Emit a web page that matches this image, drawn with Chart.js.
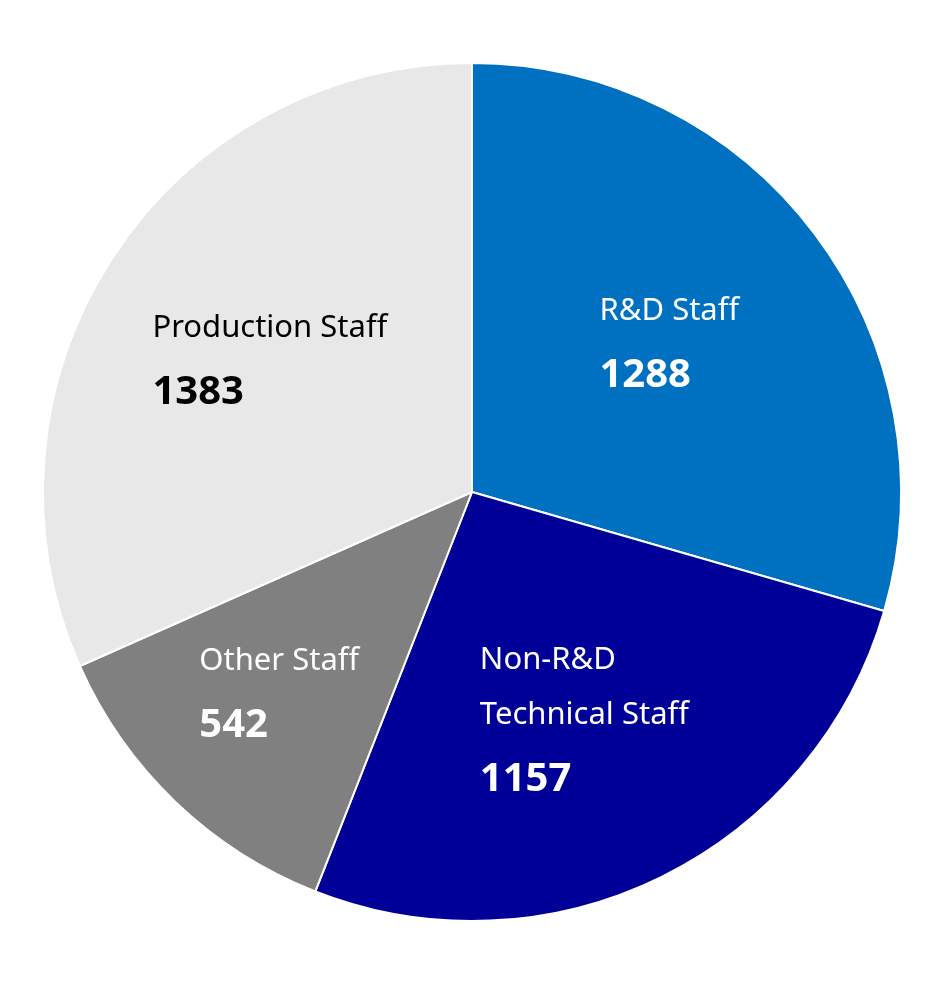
<!DOCTYPE html>
<html>
<head>
<meta charset="utf-8">
<script src="https://cdn.jsdelivr.net/npm/chart.js@4"></script>
<style>
  html, body { margin: 0; padding: 0; background: #ffffff; }
  #wrap { width: 949px; height: 988px; position: relative; }
</style>
</head>
<body>
<div id="wrap"><canvas id="grafico"></canvas></div>
<script>
const categorias = [["R&D Staff"], ["Non-R&D", "Technical Staff"], ["Other Staff"], ["Production Staff"]];
const valores = [1288, 1157, 542, 1383];
const colores = ["#0070C0", "#000099", "#808080", "#E8E8E8"];
const coloresTexto = ["#ffffff", "#ffffff", "#ffffff", "#000000"];

const fuente = "'Noto Sans', sans-serif";

// etiquetas en el centroide de cada porcion
const etiquetasPlugin = {
    id: 'etiquetas',
    afterDatasetsDraw(chart) {
        const ctx = chart.ctx;
        const meta = chart.getDatasetMeta(0);
        meta.data.forEach((arc, i) => {
            const p = arc.getProps(['x', 'y', 'startAngle', 'endAngle', 'outerRadius'], true);
            const medio = (p.startAngle + p.endAngle) / 2;
            const a = (p.endAngle - p.startAngle) / 2;
            const r = 2 * p.outerRadius * Math.sin(a) / (3 * a);
            const cx = p.x + Math.cos(medio) * r;
            const cy = p.y + Math.sin(medio) * r;

            const lineas = categorias[i];
            ctx.save();
            ctx.font = "31px " + fuente;
            let ancho = 0;
            lineas.forEach(l => { ancho = Math.max(ancho, ctx.measureText(l).width); });
            ctx.font = "bold 40px " + fuente;
            ancho = Math.max(ancho, ctx.measureText(String(valores[i])).width);

            const alto = (lineas.length - 1) * 55 + 64;
            const x0 = cx - ancho / 2;
            let y = cy - alto / 2;

            ctx.fillStyle = coloresTexto[i];
            ctx.textAlign = 'left';
            ctx.textBaseline = 'middle';
            ctx.font = "31px " + fuente;
            lineas.forEach((l, k) => {
                ctx.fillText(l, x0, y);
                if (k < lineas.length - 1) y += 55;
            });
            y += 64;
            ctx.font = "bold 40px " + fuente;
            ctx.fillText(String(valores[i]), x0, y);
            ctx.restore();
        });
    }
};

new Chart(document.getElementById('grafico'), {
    type: 'pie',
    data: {
        labels: categorias.map(c => c.join(" ")),
        datasets: [{
            data: valores,
            backgroundColor: colores,
            borderColor: '#ffffff',
            borderWidth: 2
        }]
    },
    options: {
        responsive: true,
        maintainAspectRatio: false,
        animation: false,
        layout: { padding: { left: 42, right: 47, top: 62, bottom: 66 } },
        plugins: {
            legend: { display: false },
            tooltip: { enabled: false }
        }
    },
    plugins: [etiquetasPlugin]
});
</script>
</body>
</html>
